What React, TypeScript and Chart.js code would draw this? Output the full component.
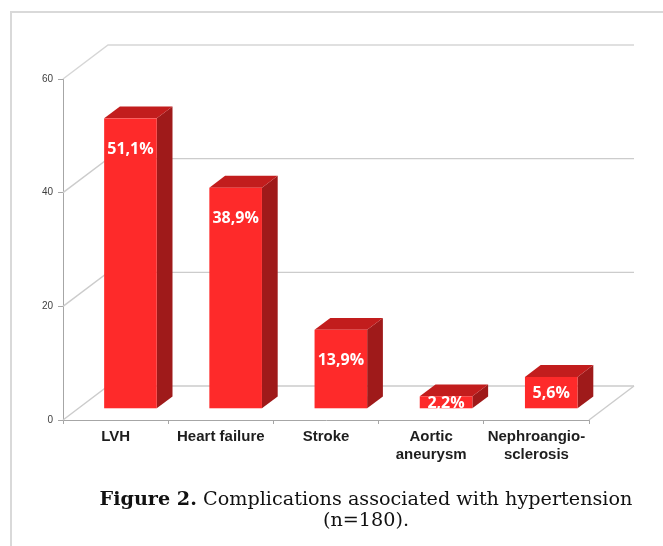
import React, { useEffect, useRef } from 'react';
import { Chart, registerables } from 'chart.js';

Chart.register(...registerables);

// ---- data ----
const categories: string[][] = [
  ['LVH'],
  ['Heart failure'],
  ['Stroke'],
  ['Aortic', 'aneurysm'],
  ['Nephroangio-', 'sclerosis'],
];
const percentages: number[] = [51.1, 38.9, 13.9, 2.2, 5.6];
const valueLabels: string[] = ['51,1%', '38,9%', '13,9%', '2,2%', '5,6%'];
const yTickValues: number[] = [0, 20, 40, 60];
const captionBold = 'Figure 2.';
const captionLine1 = ' Complications associated with hypertension';
const captionLine2 = '(n=180).';

// ---- 3D geometry (styles only) ----
const DEPTH_X = 45;
const DEPTH_Y = 34;
const BAR_FRONT = 0.33; // fraction of floor depth where bar front sits
const BAR_DEPTH = 0.35; // fraction of floor depth the bar occupies

const threeD = {
  id: 'threeD',
  beforeDraw(chart: any) {
    const ctx = chart.ctx;
    ctx.save();
    ctx.fillStyle = '#ffffff';
    ctx.fillRect(0, 0, chart.width, chart.height);
    ctx.strokeStyle = '#d9d9d9';
    ctx.lineWidth = 2;
    ctx.beginPath();
    ctx.moveTo(11, chart.height);
    ctx.lineTo(11, 12);
    ctx.lineTo(chart.width, 12);
    ctx.stroke();
    ctx.restore();
  },
  beforeDatasetsDraw(chart: any) {
    const { ctx, chartArea: a, scales } = chart;
    const y = scales.y;
    ctx.save();
    ctx.lineWidth = 1.4;
    yTickValues.forEach((v) => {
      const py = y.getPixelForValue(v);
      ctx.strokeStyle = v === yTickValues[yTickValues.length - 1] ? '#d6d6d6' : '#cccccc';
      ctx.beginPath();
      ctx.moveTo(a.left, py);
      ctx.lineTo(a.left + DEPTH_X, py - DEPTH_Y);
      ctx.lineTo(a.right + DEPTH_X, py - DEPTH_Y);
      ctx.stroke();
    });
    const y0 = y.getPixelForValue(0);
    ctx.strokeStyle = '#cccccc';
    ctx.beginPath();
    ctx.moveTo(a.right, y0);
    ctx.lineTo(a.right + DEPTH_X, y0 - DEPTH_Y);
    ctx.stroke();
    ctx.restore();
  },
  afterDatasetsDraw(chart: any) {
    const ctx = chart.ctx;
    const meta = chart.getDatasetMeta(0);
    const ox = DEPTH_X * BAR_FRONT;
    const oy = -DEPTH_Y * BAR_FRONT;
    const dx = DEPTH_X * BAR_DEPTH;
    const dy = -DEPTH_Y * BAR_DEPTH;
    ctx.save();
    meta.data.forEach((bar: any, i: number) => {
      const p = bar.getProps(['x', 'y', 'base', 'width'], true);
      const L = p.x - p.width / 2 + ox;
      const R = p.x + p.width / 2 + ox;
      const T = p.y + oy;
      const B = p.base + oy;
      // side
      ctx.fillStyle = '#9f1a1a';
      ctx.beginPath();
      ctx.moveTo(R, T);
      ctx.lineTo(R + dx, T + dy);
      ctx.lineTo(R + dx, B + dy);
      ctx.lineTo(R, B);
      ctx.closePath();
      ctx.fill();
      // top
      ctx.fillStyle = '#c21d1d';
      ctx.beginPath();
      ctx.moveTo(L, T);
      ctx.lineTo(R, T);
      ctx.lineTo(R + dx, T + dy);
      ctx.lineTo(L + dx, T + dy);
      ctx.closePath();
      ctx.fill();
      // front
      ctx.fillStyle = '#fe2a2a';
      ctx.fillRect(L, T, R - L, B - T);
      // label
      const h = B - T;
      const cy = T + Math.min(31, h / 2 + 1);
      ctx.fillStyle = '#ffffff';
      ctx.font = 'bold 16px "Open Sans", "Liberation Sans", sans-serif';
      ctx.textAlign = 'center';
      ctx.textBaseline = 'middle';
      ctx.fillText(valueLabels[i], (L + R) / 2, cy);
    });
    ctx.restore();
  },
};

export default function App() {
  const ref = useRef<HTMLCanvasElement | null>(null);

  useEffect(() => {
    if (!ref.current) return;
    const chart = new Chart(ref.current, {
      type: 'bar',
      data: {
        labels: categories,
        datasets: [
          {
            data: percentages,
            backgroundColor: 'rgba(0,0,0,0)',
            borderWidth: 0,
            barPercentage: 0.5,
            categoryPercentage: 1,
          },
        ],
      },
      options: {
        responsive: false,
        animation: false,
        layout: { padding: { left: 0, right: 74, top: 79, bottom: 0 } },
        plugins: {
          legend: { display: false },
          tooltip: { enabled: false },
          title: { display: false },
        },
        scales: {
          x: {
            offset: true,
            grid: {
              offset: true,
              drawOnChartArea: false,
              drawTicks: true,
              tickLength: 4,
              color: '#a6a6a6',
            },
            border: { display: true, color: '#a6a6a6', width: 1 },
            ticks: {
              color: '#1e1e1e',
              padding: 4,
              maxRotation: 0,
              autoSkip: false,
              font: { family: '"Liberation Sans", Arial, sans-serif', size: 15, weight: 'bold', lineHeight: 1.2 },
            },
            afterFit: (s: any) => {
              s.height = 126;
            },
          },
          y: {
            min: 0,
            max: 60,
            afterBuildTicks: (s: any) => {
              s.ticks = yTickValues.map((v) => ({ value: v }));
            },
            grid: {
              drawOnChartArea: false,
              drawTicks: true,
              tickLength: 5,
              color: '#a6a6a6',
            },
            border: { display: true, color: '#a6a6a6', width: 1 },
            ticks: {
              color: '#404040',
              padding: 5,
              font: { family: '"Liberation Sans", Arial, sans-serif', size: 10 },
            },
            afterFit: (s: any) => {
              s.width = 63;
            },
          },
        },
      },
      plugins: [threeD],
    });
    return () => chart.destroy();
  }, []);

  return (
    <div style={{ position: 'absolute', left: 0, top: 0, width: 663, height: 546, overflow: 'hidden' }}>
      <canvas ref={ref} width={663} height={546} style={{ display: 'block' }} />
      <div
        style={{
          position: 'absolute',
          left: 16,
          top: 488,
          width: 700,
          textAlign: 'center',
          fontFamily: '"DejaVu Serif", serif',
          fontSize: 19.2,
          lineHeight: '21px',
          color: '#111',
          whiteSpace: 'nowrap',
        }}
      >
        <b>{captionBold}</b>
        {captionLine1}
        <br />
        {captionLine2}
      </div>
    </div>
  );
}
